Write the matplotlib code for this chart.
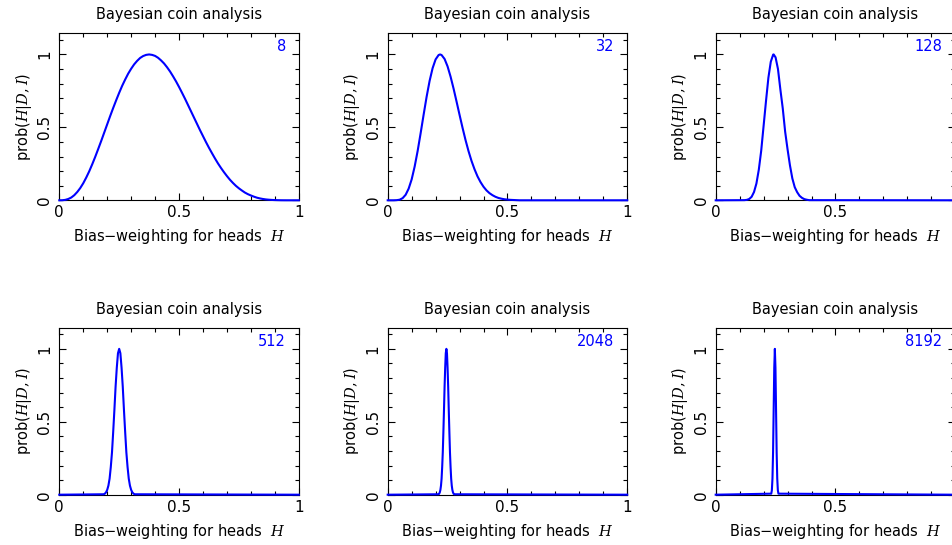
import numpy as np
import matplotlib.pyplot as plt

# Number of coin flips shown in each panel
flips = [8, 32, 128, 512, 2048, 8192]

# Posterior curves (H, normalised prob)
h_8 = [0, 0.0125, 0.025, 0.0375, 0.05, 0.0625, 0.075, 0.0875, 0.1, 0.1125,
       0.125, 0.1375, 0.15, 0.1625, 0.175, 0.1875, 0.2, 0.2125, 0.225, 0.2375,
       0.25, 0.2625, 0.275, 0.2875, 0.3, 0.3125, 0.325, 0.3375, 0.35, 0.3625,
       0.375, 0.3875, 0.4, 0.4125, 0.425, 0.4375, 0.45, 0.4625, 0.475, 0.4875,
       0.5, 0.5125, 0.525, 0.5375, 0.55, 0.5625, 0.575, 0.5875, 0.6, 0.6125,
       0.625, 0.6375, 0.65, 0.6625, 0.675, 0.6875, 0.7, 0.7125, 0.725, 0.7375,
       0.75, 0.7625, 0.775, 0.7875, 0.8, 0.8125, 0.825, 0.8375, 0.85, 0.8625,
       0.875, 0.8875, 0.9, 0.9125, 0.925, 0.9375, 0.95, 1.0]
p_8 = [0, 0.0004, 0.003, 0.009, 0.019, 0.035, 0.057, 0.084, 0.117, 0.156,
       0.199, 0.247, 0.298, 0.352, 0.407, 0.464, 0.521, 0.578, 0.633, 0.686,
       0.737, 0.785, 0.828, 0.868, 0.902, 0.932, 0.956, 0.976, 0.989, 0.997,
       1.0, 0.997, 0.99, 0.977, 0.959, 0.938, 0.912, 0.883, 0.85, 0.815,
       0.777, 0.737, 0.696, 0.653, 0.61, 0.567, 0.524, 0.481, 0.44, 0.399,
       0.36, 0.323, 0.287, 0.253, 0.222, 0.193, 0.166, 0.141, 0.119, 0.099,
       0.082, 0.067, 0.053, 0.042, 0.033, 0.025, 0.018, 0.013, 0.009, 0.006,
       0.004, 0.0025, 0.0015, 0.0008, 0.0003, 0.0001, 0, 0]

h_32 = [0, 0.0125, 0.025, 0.0375, 0.05, 0.0625, 0.075, 0.0875, 0.1, 0.1125,
        0.125, 0.1375, 0.15, 0.1625, 0.175, 0.1875, 0.2, 0.2125, 0.21875, 0.225,
        0.2375, 0.25, 0.2625, 0.275, 0.2875, 0.3, 0.3125, 0.325, 0.3375, 0.35,
        0.3625, 0.375, 0.3875, 0.4, 0.4125, 0.425, 0.4375, 0.45, 0.4625, 0.475,
        0.4875, 0.5, 0.5125, 0.525, 0.5375, 0.55, 1.0]
p_32 = [0, 0, 0, 0.001, 0.004, 0.015, 0.038, 0.08, 0.143, 0.231,
        0.338, 0.46, 0.587, 0.71, 0.819, 0.906, 0.966, 0.996, 1.0, 0.996,
        0.969, 0.918, 0.848, 0.766, 0.677, 0.586, 0.497, 0.413, 0.337, 0.27,
        0.213, 0.164, 0.125, 0.093, 0.068, 0.049, 0.035, 0.024, 0.016, 0.011,
        0.007, 0.005, 0.003, 0.002, 0.001, 0, 0]

h_128 = [0, 0.12, 0.13, 0.14, 0.15, 0.16, 0.17, 0.18, 0.19, 0.2, 0.21, 0.22, 0.23,
         0.24, 0.242, 0.25, 0.26, 0.27, 0.28, 0.29, 0.3, 0.31, 0.32, 0.33, 0.34,
         0.35, 0.36, 0.37, 0.38, 0.39, 1.0]
p_128 = [0, 0.001, 0.003, 0.009, 0.024, 0.057, 0.115, 0.21, 0.34, 0.51, 0.68, 0.84, 0.95,
         0.999, 1.0, 0.98, 0.9, 0.76, 0.63, 0.47, 0.35, 0.24, 0.15, 0.09, 0.056,
         0.031, 0.017, 0.008, 0.004, 0.001, 0]

h_512 = [0, 0.185, 0.19, 0.195, 0.2, 0.205, 0.21, 0.215, 0.22, 0.225, 0.23, 0.235,
         0.24, 0.245, 0.25, 0.255, 0.26, 0.265, 0.27, 0.275, 0.28, 0.285, 0.29,
         0.295, 0.3, 0.305, 0.31, 0.315, 1.0]
p_512 = [0, 0.003, 0.007, 0.016, 0.033, 0.062, 0.11, 0.19, 0.29, 0.43, 0.58, 0.74,
         0.87, 0.97, 1.0, 0.97, 0.87, 0.74, 0.58, 0.43, 0.29, 0.19, 0.11,
         0.062, 0.033, 0.016, 0.007, 0.003, 0]

h_2048 = [0, 0.2125, 0.215, 0.2175, 0.22, 0.2225, 0.225, 0.2275, 0.23, 0.2325, 0.235,
          0.2375, 0.24, 0.2425, 0.245, 0.2475, 0.25, 0.2525, 0.255, 0.2575, 0.26,
          0.2625, 0.265, 0.2675, 0.27, 0.2725, 0.275, 0.2775, 1.0]
p_2048 = [0, 0.003, 0.007, 0.016, 0.033, 0.062, 0.11, 0.19, 0.29, 0.43, 0.58,
          0.74, 0.87, 0.97, 1.0, 0.97, 0.87, 0.74, 0.58, 0.43, 0.29,
          0.19, 0.11, 0.062, 0.033, 0.016, 0.007, 0.003, 0]

h_8192 = [0, 0.232, 0.2345, 0.237, 0.2395, 0.242, 0.2445, 0.247, 0.2495, 0.252,
          0.2545, 0.257, 0.2595, 0.262, 1.0]
p_8192 = [0, 0.007, 0.03, 0.11, 0.29, 0.58, 0.87, 1.0, 0.87, 0.58,
          0.29, 0.11, 0.03, 0.007, 0]

curves = [(h_8, p_8), (h_32, p_32), (h_128, p_128),
          (h_512, p_512), (h_2048, p_2048), (h_8192, p_8192)]

plt.rcParams['font.family'] = 'DejaVu Sans'
plt.rcParams['mathtext.fontset'] = 'dejavuserif'

fig = plt.figure(figsize=(9.52, 5.45), dpi=100)

lefts = [59.3, 387.7, 715.7]
tops = [33.3, 327.7]
w_px, h_px = 239.5, 167.0

for i, (n, (h, p)) in enumerate(zip(flips, curves)):
    row, col = divmod(i, 3)
    ax = fig.add_axes([lefts[col] / 952, 1 - (tops[row] + h_px) / 545,
                       w_px / 952, h_px / 545])
    ax.plot(h, p, color='blue', lw=1.5, clip_on=False, zorder=3)
    ax.set_xlim(0, 1)
    ax.set_ylim(0, 1.145)

    ax.set_xticks([0, 0.5, 1])
    # right-hand column runs off the page, so its "1" is not shown
    ax.set_xticklabels(['0', '0.5', '1' if col < 2 else ''])
    ax.set_xticks(np.arange(0, 1.01, 0.1), minor=True)
    ax.set_yticks([0, 0.5, 1])
    ax.set_yticklabels(['0', '0.5', '1'])
    ax.set_yticks(np.arange(0, 1.11, 0.1), minor=True)
    ax.tick_params(which='both', direction='in', top=True, right=True,
                   width=0.8, labelsize=11)
    ax.tick_params(which='major', length=5)
    ax.tick_params(which='minor', length=3)
    ax.tick_params(axis='y', pad=5)
    for lab in ax.get_yticklabels():
        lab.set_rotation(90)
        lab.set_va('center')
    for s in ax.spines.values():
        s.set_linewidth(0.8)

    ax.set_title('Bayesian coin analysis', fontsize=10.5, pad=10)
    ax.set_xlabel('Bias\u2212weighting for heads  $H$', fontsize=10.5, labelpad=5)
    ax.set_ylabel('prob($H|D,I$)', fontsize=10.5, labelpad=2.5)
    ax.text(0.946, 0.918, str(n), transform=ax.transAxes, ha='right',
            va='center', color='blue', fontsize=10.5)

fig.savefig('out.png', dpi=100)
